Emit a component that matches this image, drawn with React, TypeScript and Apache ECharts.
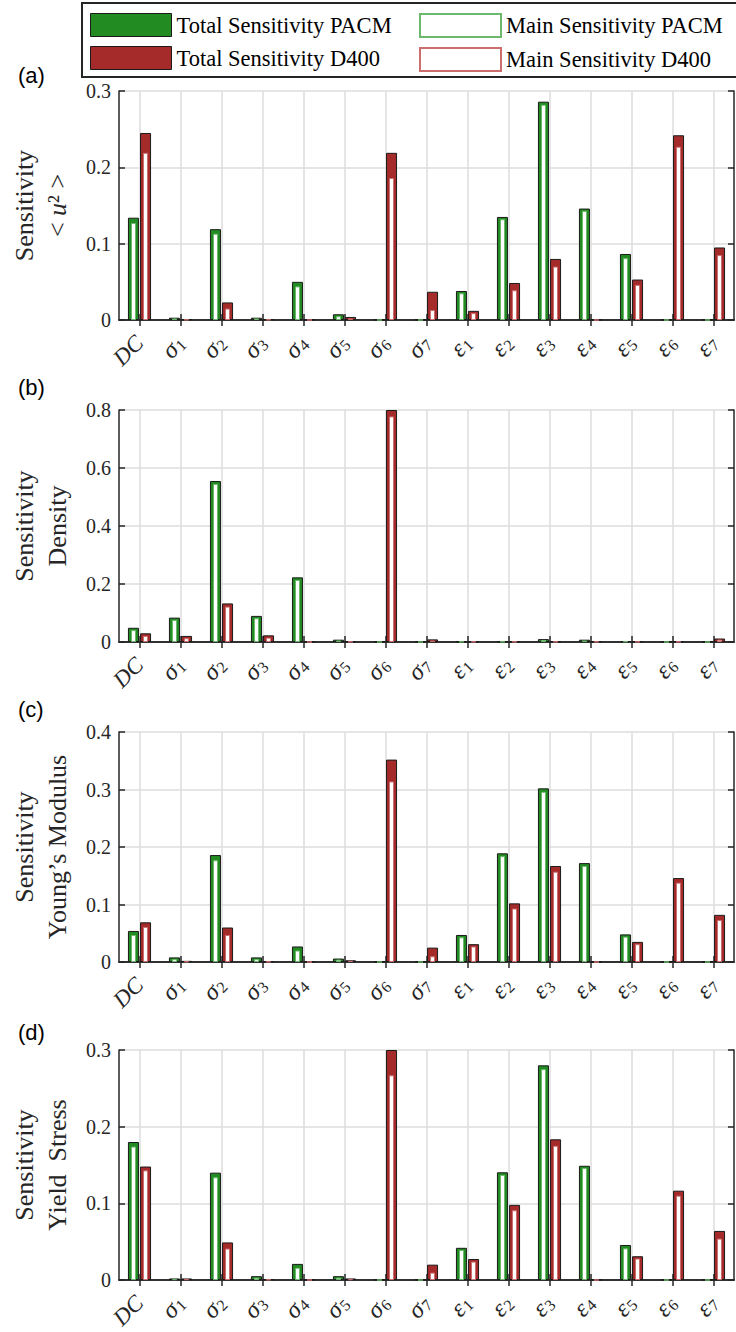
import React, { useEffect, useRef } from "react";
import * as echarts from "echarts";

const categories = ["DC", "σ1", "σ2", "σ3", "σ4", "σ5", "σ6", "σ7", "ε1", "ε2", "ε3", "ε4", "ε5", "ε6", "ε7"];

// Panel (a): <u^2>
const totalPacmA = [0.134, 0.003, 0.119, 0.003, 0.05, 0.0075, 0.0005, 0.0005, 0.038, 0.135, 0.286, 0.146, 0.0865, 0.0005, 0.0005];
const mainPacmA = [0.127, 0.002, 0.113, 0.002, 0.044, 0.005, 0, 0, 0.035, 0.132, 0.282, 0.143, 0.081, 0, 0];
const totalD400A = [0.245, 0.001, 0.023, 0.001, 0.0005, 0.004, 0.219, 0.037, 0.012, 0.0485, 0.08, 0.0005, 0.053, 0.242, 0.095];
const mainD400A = [0.219, 0.0005, 0.015, 0.0005, 0, 0.002, 0.186, 0.013, 0.009, 0.039, 0.07, 0, 0.046, 0.227, 0.085];

// Panel (b): Density
const totalPacmB = [0.049, 0.084, 0.555, 0.09, 0.223, 0.008, 0.001, 0.001, 0.002, 0.002, 0.01, 0.008, 0.003, 0.001, 0.001];
const mainPacmB = [0.041, 0.076, 0.545, 0.082, 0.214, 0.005, 0, 0, 0.001, 0.001, 0.007, 0.005, 0.002, 0, 0];
const totalD400B = [0.03, 0.021, 0.133, 0.023, 0.001, 0.002, 0.8, 0.009, 0.002, 0.002, 0.002, 0.002, 0.002, 0.002, 0.012];
const mainD400B = [0.021, 0.013, 0.122, 0.015, 0, 0.001, 0.778, 0.005, 0.001, 0.001, 0.001, 0.001, 0.001, 0.001, 0.008];

// Panel (c): Young's Modulus
const totalPacmC = [0.054, 0.008, 0.186, 0.008, 0.027, 0.006, 0.0005, 0.0005, 0.047, 0.189, 0.302, 0.172, 0.048, 0.0005, 0.0005];
const mainPacmC = [0.047, 0.005, 0.177, 0.005, 0.02, 0.004, 0, 0, 0.043, 0.184, 0.296, 0.167, 0.044, 0, 0];
const totalD400C = [0.069, 0.002, 0.06, 0.001, 0.0005, 0.003, 0.352, 0.025, 0.031, 0.102, 0.167, 0.0005, 0.035, 0.146, 0.082];
const mainD400C = [0.061, 0.001, 0.047, 0.0005, 0, 0.002, 0.314, 0.01, 0.027, 0.093, 0.157, 0, 0.031, 0.138, 0.073];

// Panel (d): Yield Stress
const totalPacmD = [0.18, 0.002, 0.14, 0.005, 0.021, 0.005, 0.0005, 0.0005, 0.042, 0.1405, 0.28, 0.149, 0.0457, 0.0005, 0.0005];
const mainPacmD = [0.174, 0.001, 0.134, 0.003, 0.016, 0.003, 0, 0, 0.039, 0.137, 0.275, 0.146, 0.0413, 0, 0];
const totalD400D = [0.148, 0.002, 0.049, 0.001, 0.0005, 0.002, 0.3, 0.02, 0.0274, 0.098, 0.1835, 0.0005, 0.031, 0.1165, 0.064];
const mainD400D = [0.143, 0.001, 0.041, 0.0005, 0, 0.001, 0.267, 0.0096, 0.024, 0.091, 0.175, 0, 0.028, 0.11, 0.054];

const yMax = [0.3, 0.8, 0.4, 0.3];
const yInterval = [0.1, 0.2, 0.1, 0.1];
const yTitles = [
  "Sensitivity\n{n|< }{i|u}{n|² >}",
  "Sensitivity\nDensity",
  "Sensitivity\nYoung’s Modulus",
  "Sensitivity\nYield  Stress",
];
const panelLabels = ["(a)", "(b)", "(c)", "(d)"];
const seriesNames = ["Total Sensitivity PACM", "Total Sensitivity D400", "Main Sensitivity PACM", "Main Sensitivity D400"];

const SERIF = "'Liberation Serif', 'Times New Roman', serif";
const AXIS = "#262626";
const GRIDC = "#dcdcdc";
const GREEN = "#228b22";
const RED = "#a52a2a";
const LGREEN = "#6cb86c";
const LRED = "#cc6e6e";

const layout = [
  { top: 91, height: 229, labelY: 77 },
  { top: 410, height: 232, labelY: 389 },
  { top: 732, height: 230, labelY: 711 },
  { top: 1050, height: 230, labelY: 1034 },
];

export default function App() {
  const ref = useRef<HTMLDivElement>(null);
  useEffect(() => {
    document.body.style.margin = "0";
    const chart = echarts.init(ref.current!, undefined, { renderer: "svg" });
    const data = [
      [totalPacmA, totalD400A, mainPacmA, mainD400A],
      [totalPacmB, totalD400B, mainPacmB, mainD400B],
      [totalPacmC, totalD400C, mainPacmC, mainD400C],
      [totalPacmD, totalD400D, mainPacmD, mainD400D],
    ];
    const grids: any[] = [];
    const xAxes: any[] = [];
    const yAxes: any[] = [];
    const series: any[] = [];
    const graphics: any[] = [];
    const lineStyle = { color: AXIS, width: 1.5 };
    const labelFormatter = (v: string) => (v === "DC" ? "{it|DC}" : `{g|${v[0]}}{sub|${v.slice(1)}}`);
    layout.forEach((l, i) => {
      grids.push({ left: 115, width: 619, top: l.top, height: l.height });
      xAxes.push({
        type: "category",
        gridIndex: i,
        data: categories,
        position: "bottom",
        axisLine: { lineStyle },
        axisTick: { show: true, inside: true, alignWithLabel: true, length: 6, lineStyle },
        axisLabel: {
          interval: 0,
          rotate: 45,
          margin: 19,
          formatter: labelFormatter,
          rich: {
            it: { fontFamily: SERIF, fontStyle: "italic", fontSize: 23, color: AXIS },
            g: { fontFamily: SERIF, fontStyle: "italic", fontSize: 25, color: AXIS },
            sub: { fontFamily: SERIF, fontSize: 16, color: AXIS, verticalAlign: "bottom", padding: [9, 0, 0, 1] },
          },
        },
        splitLine: { show: true, alignWithLabel: true, lineStyle: { color: GRIDC, width: 1.5 } },
      });
      xAxes.push({
        type: "category",
        gridIndex: i,
        data: categories,
        position: "top",
        axisLine: { lineStyle },
        axisTick: { show: true, inside: true, alignWithLabel: true, length: 6, lineStyle },
        axisLabel: { show: false },
        splitLine: { show: false },
      });
      yAxes.push({
        type: "value",
        gridIndex: i,
        min: 0,
        max: yMax[i],
        interval: yInterval[i],
        position: "left",
        axisLine: { show: true, lineStyle },
        axisTick: { show: true, inside: true, length: 6, lineStyle },
        axisLabel: { fontFamily: SERIF, fontSize: 20, color: AXIS, margin: 8 },
        splitLine: { show: true, lineStyle: { color: GRIDC, width: 1.5 } },
        name: yTitles[i],
        nameLocation: "middle",
        nameGap: 45,
        nameTextStyle: {
          fontFamily: SERIF,
          fontSize: 26,
          lineHeight: 33,
          color: AXIS,
          rich: {
            n: { fontFamily: SERIF, fontSize: 26, color: AXIS, lineHeight: 33 },
            i: { fontFamily: SERIF, fontSize: 26, fontStyle: "italic", color: AXIS, lineHeight: 33 },
          },
        },
      });
      yAxes.push({
        type: "value",
        gridIndex: i,
        min: 0,
        max: yMax[i],
        interval: yInterval[i],
        position: "right",
        axisLine: { show: true, lineStyle },
        axisTick: { show: true, inside: true, length: 6, lineStyle },
        axisLabel: { show: false },
        splitLine: { show: false },
      });
      const [tp, td, mp, md] = data[i];
      series.push(
        {
          type: "bar",
          name: seriesNames[0],
          xAxisIndex: 2 * i,
          yAxisIndex: 2 * i,
          data: tp,
          barWidth: 11,
          barGap: "10%",
          itemStyle: { color: GREEN, borderColor: "#1a1a1a", borderWidth: 1 },
        },
        {
          type: "bar",
          name: seriesNames[1],
          xAxisIndex: 2 * i,
          yAxisIndex: 2 * i,
          data: td,
          barWidth: 11,
          barGap: "10%",
          itemStyle: { color: RED, borderColor: "#1a1a1a", borderWidth: 1 },
        },
        {
          type: "bar",
          name: seriesNames[2],
          xAxisIndex: 2 * i + 1,
          yAxisIndex: 2 * i,
          data: mp,
          barWidth: 5,
          barGap: "140%",
          itemStyle: { color: "#ffffff", borderColor: LGREEN, borderWidth: 1 },
        },
        {
          type: "bar",
          name: seriesNames[3],
          xAxisIndex: 2 * i + 1,
          yAxisIndex: 2 * i,
          data: md,
          barWidth: 5,
          barGap: "140%",
          itemStyle: { color: "#ffffff", borderColor: LRED, borderWidth: 1 },
        }
      );
      graphics.push({
        type: "text",
        left: 18,
        top: l.labelY - 13,
        style: { text: panelLabels[i], fontFamily: "'Liberation Sans', Arial, sans-serif", fontSize: 22, fill: "#000" },
      });
    });
    graphics.push({
      type: "rect",
      shape: { x: 82, y: 3, width: 660, height: 74 },
      style: { fill: "none", stroke: AXIS, lineWidth: 2 },
      z: 0,
    });
    const legendCommon = {
      orient: "vertical",
      top: 13,
      padding: 0,
      itemWidth: 81,
      itemHeight: 23,
      itemGap: 9,
      icon: "rect",
      textStyle: { fontFamily: SERIF, fontSize: 22.5, color: "#000" },
    };
    chart.setOption({
      animation: false,
      backgroundColor: "#ffffff",
      grid: grids,
      xAxis: xAxes,
      yAxis: yAxes,
      series,
      graphic: graphics,
      legend: [
        {
          ...legendCommon,
          left: 90,
          data: [
            { name: seriesNames[0], itemStyle: { color: GREEN, borderColor: "#1a1a1a", borderWidth: 1 } },
            { name: seriesNames[1], itemStyle: { color: RED, borderColor: "#1a1a1a", borderWidth: 1 } },
          ],
        },
        {
          ...legendCommon,
          left: 419,
          data: [
            { name: seriesNames[2], itemStyle: { color: "#ffffff", borderColor: LGREEN, borderWidth: 2 } },
            { name: seriesNames[3], itemStyle: { color: "#ffffff", borderColor: LRED, borderWidth: 2 } },
          ],
        },
      ],
    });
    return () => chart.dispose();
  }, []);
  return <div ref={ref} style={{ width: 736, height: 1332 }} />;
}
